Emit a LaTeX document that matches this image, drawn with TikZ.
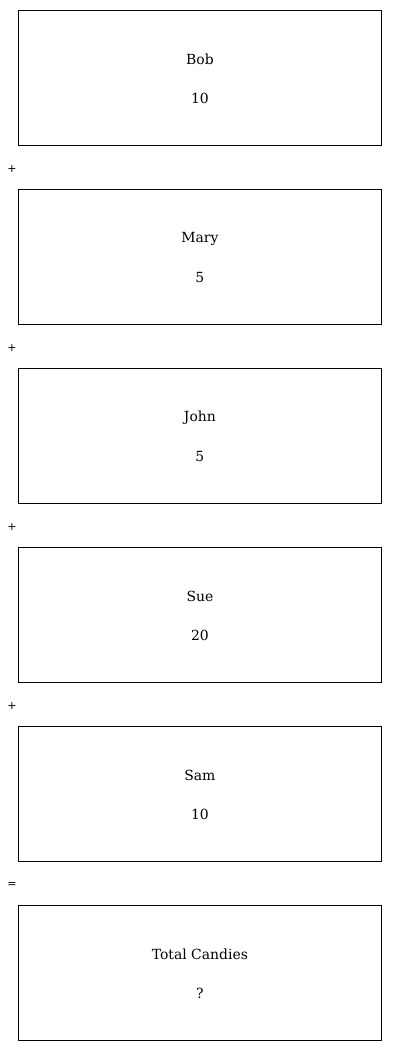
\documentclass[tikz,border=0pt]{standalone}
\usepackage{fontspec}
\usetikzlibrary{calc}
\newfontfamily\opfont{DejaVu Sans}
\newfontfamily\lblfont{DejaVu Serif}
\begin{document}
\begin{tikzpicture}[x=1bp,y=-1bp,
  card/.style={draw, line width=0.8bp, minimum width=363bp, minimum height=135bp, anchor=north west, inner sep=0},
  lbl/.style={font=\lblfont\fontsize{14}{16}\selectfont, inner sep=0},
  op/.style={font=\opfont\fontsize{11}{13}\selectfont, inner sep=0}]
\useasboundingbox (0,0) rectangle (400,1051);
\foreach \i/\name/\val in {0/Bob/10,1/Mary/5,2/John/5,3/Sue/20,4/Sam/10,5/Total Candies/?}{
  \node[card] (b\i) at (18,{10+179*\i}) {};
  \node[lbl] (n\i) at ($(b\i.north)+(0,49.5)$) {\name};
  \node[lbl] (v\i) at ($(b\i.north)+(0,88.5)$) {\val};
}
\foreach \i in {0,...,3}{
  \node[op] (p\i) at (12,{169.5+179*\i}) {+};
}
\node[op] (eq) at (12,885.5) {=};
\end{tikzpicture}
\end{document}
